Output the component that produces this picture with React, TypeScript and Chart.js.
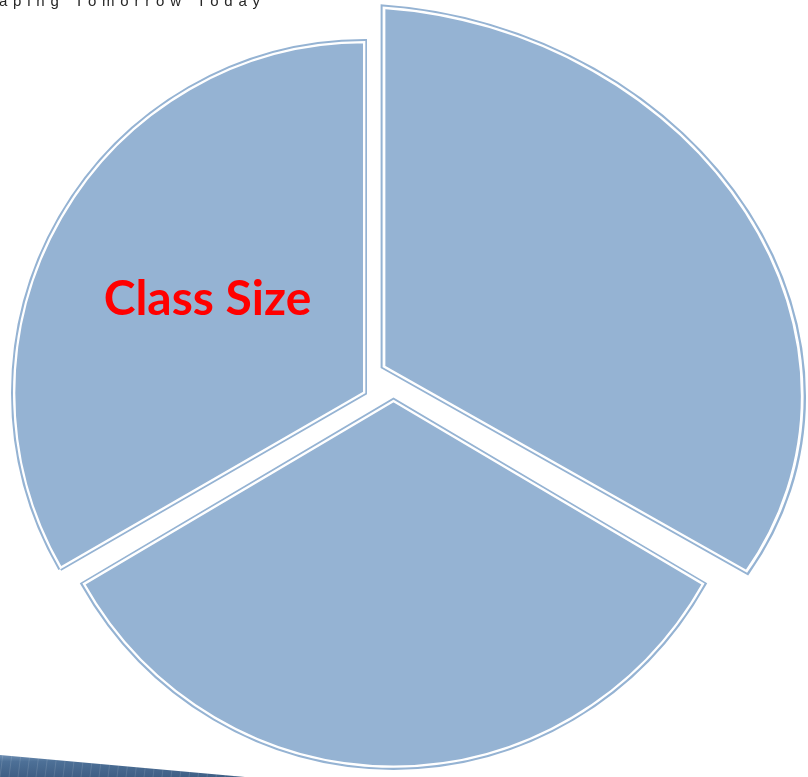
import React, { useEffect, useRef } from "react";
import { Chart, registerables } from "chart.js";

Chart.register(...registerables);

// ---- data ----
const sliceLabels = ["", "", "Class Size"];
const sliceValues = [1, 1, 1];
const headerText = "Shaping Tomorrow Today";

// ---- styles (per-slice explosion shift and distortion matrix [a, b, c, d]) ----
const sliceShift: number[][] = [
  [3, -18],
  [13.5, 15],
  [-15, 8],
];
const sliceMatrix: number[][] = [
  [1.195, 0.083, 0, 1.024],
  [1.02, 0, 0, 1.045],
  [1, 0, 0, 1],
];
const FILL = "#95B3D3";
const LABEL_COLOR = "#FF0000";

function applySliceTransform(ctx: CanvasRenderingContext2D, el: any, i: number) {
  const cx = el.x;
  const cy = el.y;
  const [dx, dy] = sliceShift[i];
  const [a, b, c, d] = sliceMatrix[i];
  ctx.translate(cx + dx, cy + dy);
  ctx.transform(a, b, c, d, 0, 0);
  ctx.translate(-cx, -cy);
}

function mapPoint(el: any, i: number, px: number, py: number) {
  const cx = el.x;
  const cy = el.y;
  const [dx, dy] = sliceShift[i];
  const [a, b, c, d] = sliceMatrix[i];
  const ux = px - cx;
  const uy = py - cy;
  return { x: cx + dx + a * ux + c * uy, y: cy + dy + b * ux + d * uy };
}

const decorPlugin = {
  id: "decor",
  beforeDraw(chart: any) {
    const ctx: CanvasRenderingContext2D = chart.ctx;
    const H = chart.height;
    // bottom-left slide ribbon
    ctx.save();
    ctx.beginPath();
    ctx.moveTo(0, H - 22);
    ctx.lineTo(245, H);
    ctx.lineTo(0, H);
    ctx.closePath();
    ctx.clip();
    const g = ctx.createLinearGradient(0, H - 22, 0, H);
    g.addColorStop(0, "#6f8fb3");
    g.addColorStop(0.3, "#4d7097");
    g.addColorStop(1, "#3f5f85");
    ctx.fillStyle = g;
    ctx.fillRect(0, H - 24, 250, 24);
    ctx.strokeStyle = "rgba(255,255,255,0.12)";
    ctx.lineWidth = 1;
    for (let x = 3; x < 250; x += 9) {
      ctx.beginPath();
      ctx.moveTo(x, H - 24);
      ctx.lineTo(x - 3, H);
      ctx.stroke();
    }
    ctx.restore();
  },
  afterDraw(chart: any) {
    const ctx: any = chart.ctx;
    ctx.save();
    ctx.font = "15px 'Liberation Sans', Arial, sans-serif";
    ctx.fillStyle = "#262626";
    ctx.textBaseline = "alphabetic";
    ctx.textAlign = "left";
    if ("letterSpacing" in ctx) ctx.letterSpacing = "5.8px";
    ctx.fillText(headerText, -31, 5.5);
    ctx.restore();
  },
};

const explodedPiePlugin = {
  id: "explodedPie",
  beforeDatasetDraw(chart: any, args: any) {
    const ctx: CanvasRenderingContext2D = chart.ctx;
    const meta = args.meta;
    meta.data.forEach((el: any, i: number) => {
      ctx.save();
      applySliceTransform(ctx, el, i);
      el.draw(ctx);
      const inner = Object.create(el);
      inner.options = {
        ...el.options,
        backgroundColor: "rgba(0,0,0,0)",
        borderColor: "#ffffff",
        borderWidth: 2,
        borderAlign: "inner",
        borderJoinStyle: "miter",
      };
      inner.draw(ctx);
      ctx.restore();
    });
    meta.data.forEach((el: any, i: number) => {
      const label = chart.data.labels[i];
      if (!label) return;
      const c = el.getCenterPoint();
      const ext = 1.04;
      const px = el.x + (c.x - el.x) * ext;
      const py = el.y + (c.y - el.y) * ext;
      const p = mapPoint(el, i, px, py);
      ctx.save();
      ctx.font = "bold 48px Lato, 'Open Sans', sans-serif";
      ctx.fillStyle = LABEL_COLOR;
      ctx.textAlign = "center";
      ctx.textBaseline = "middle";
      ctx.fillText(label, p.x + 1, p.y - 2);
      ctx.restore();
    });
    return false;
  },
};

export default function App() {
  const ref = useRef<HTMLCanvasElement | null>(null);
  useEffect(() => {
    if (!ref.current) return;
    const chart = new Chart(ref.current, {
      type: "pie",
      data: {
        labels: sliceLabels,
        datasets: [
          {
            data: sliceValues,
            backgroundColor: FILL,
            borderColor: FILL,
            borderWidth: 4,
            borderJoinStyle: "miter",
            radius: 352,
          } as any,
        ],
      },
      options: {
        responsive: false,
        animation: false,
        events: [],
        layout: { padding: { left: 0, right: 48, top: 0, bottom: 7 } },
        plugins: {
          legend: { display: false },
          tooltip: { enabled: false },
        },
      },
      plugins: [decorPlugin, explodedPiePlugin],
    });
    return () => chart.destroy();
  }, []);
  return (
    <div style={{ position: "fixed", left: 0, top: 0, width: 808, height: 777, background: "#fff" }}>
      <canvas ref={ref} width={808} height={777} style={{ display: "block", width: 808, height: 777 }} />
    </div>
  );
}
